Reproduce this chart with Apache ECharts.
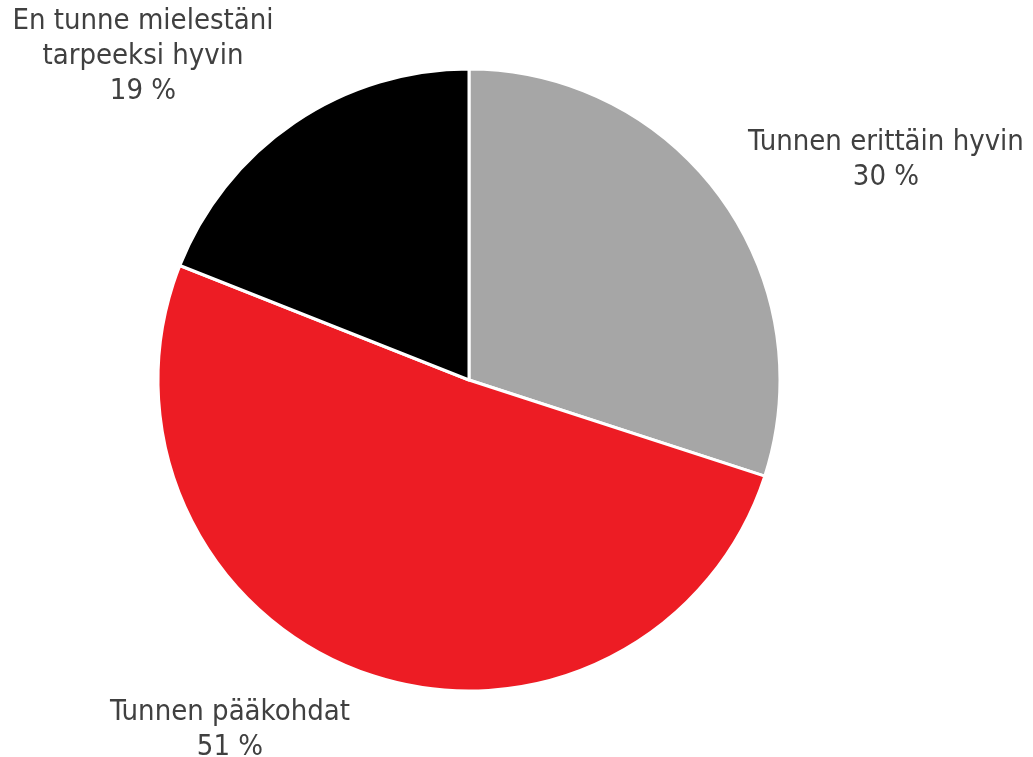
<!DOCTYPE html>
<html>
<head>
<meta charset="utf-8">
<script src="https://cdn.jsdelivr.net/npm/echarts@6/dist/echarts.min.js"></script>
<style>
  html, body { margin: 0; padding: 0; background: #fff; }
  #chart { width: 1033px; height: 757px; }
</style>
</head>
<body>
<div id="chart"></div>
<script>
// data
const categories = ['Tunnen erittäin hyvin', 'Tunnen pääkohdat', 'En tunne mielestäni\ntarpeeksi hyvin'];
const values = [30, 51, 19];
const colors = ['#a6a6a6', '#ed1c24', '#000000'];

// label anchor points (label centres)
const labelPos = [[886, 160], [230, 730], [143, 56]];

const chart = echarts.init(document.getElementById('chart'));

const option = {
  animation: false,
  series: [{
    type: 'pie',
    center: [469, 380],
    radius: 311,
    startAngle: 90,
    clockwise: true,
    avoidLabelOverlap: false,
    data: categories.map((name, i) => ({
      name: name,
      value: values[i],
      itemStyle: { color: colors[i] },
    })),
    itemStyle: {
      borderColor: '#fff',
      borderWidth: 3,
    },
    label: {
      show: true,
      position: 'outside',
      formatter: p => `${p.name}\n${p.value} %`,
      color: '#404040',
      fontFamily: "'DejaVu Sans Condensed', 'Liberation Sans', sans-serif",
      fontSize: 29,
      lineHeight: 35,
      align: 'center',
    },
    labelLine: { show: false },
    labelLayout: (params) => {
      const pos = labelPos[params.dataIndex];
      return {
        x: pos[0],
        y: pos[1],
        align: 'center',
        verticalAlign: 'middle',
      };
    },
  }],
};

chart.setOption(option);
</script>
</body>
</html>
